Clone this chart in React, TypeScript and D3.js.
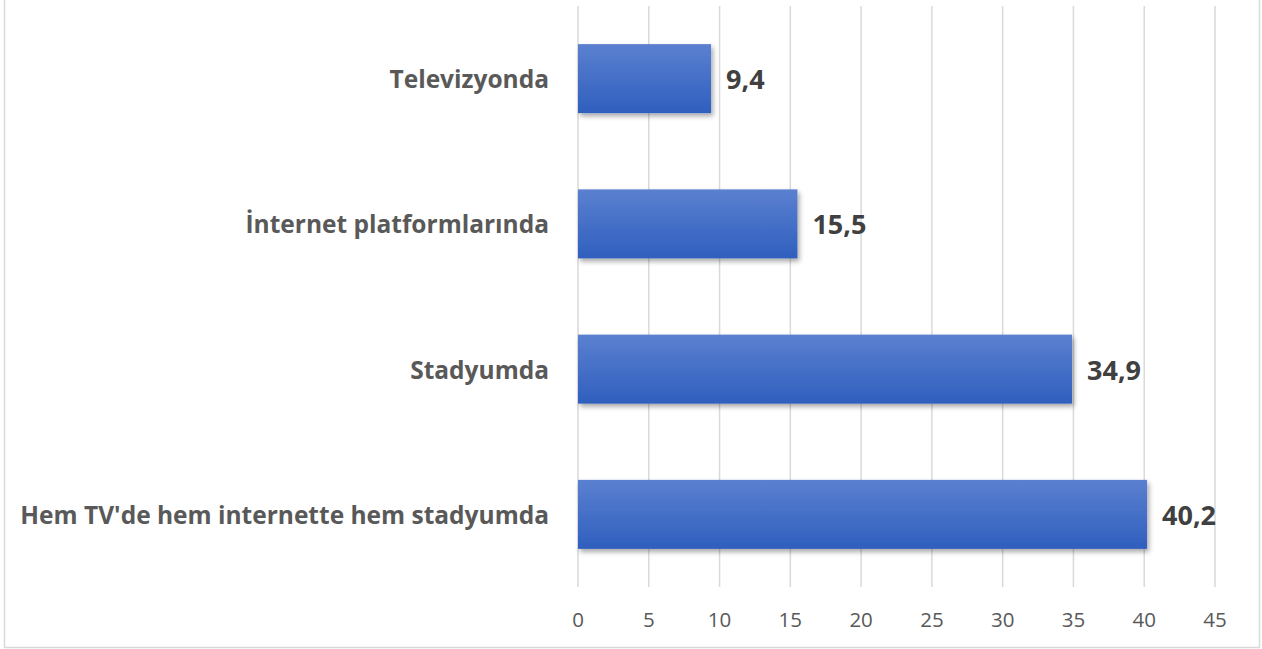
import React from "react";
import * as d3 from "d3";

const categories = [
  "Televizyonda",
  "İnternet platformlarında",
  "Stadyumda",
  "Hem TV'de hem internette hem stadyumda",
];
const values = [9.4, 15.5, 34.9, 40.2];
const valueLabels = ["9,4", "15,5", "34,9", "40,2"];
const ticks = [0, 5, 10, 15, 20, 25, 30, 35, 40, 45];

const W = 1262;
const H = 649;
const M = { left: 578, right: 1215, top: 6, bottom: 587 };

export default function App() {
  const x = d3.scaleLinear().domain([0, 45]).range([M.left, M.right]);
  const y = d3
    .scaleBand<string>()
    .domain(categories)
    .range([M.top, M.bottom])
    .paddingInner(0.525)
    .paddingOuter(0.2625);
  const bw = y.bandwidth();
  return (
    <div style={{ position: "fixed", left: 0, top: 0 }}>
      <svg width={W} height={H} style={{ display: "block", background: "#fff" }}>
        <defs>
          <linearGradient id="barGrad" x1="0" y1="0" x2="0" y2="1">
            <stop offset="0%" stopColor="#5b80d0" />
            <stop offset="100%" stopColor="#2f5fbe" />
          </linearGradient>
          <filter id="shadow" x="-10%" y="-20%" width="130%" height="160%">
            <feDropShadow dx="2" dy="3" stdDeviation="2.5" floodColor="#000" floodOpacity="0.35" />
          </filter>
        </defs>
        <rect x={4.5} y={-5} width={1255} height={652.5} fill="#fff" stroke="#d9d9d9" strokeWidth={1.5} />
        {ticks.map((t) => (
          <line
            key={t}
            x1={x(t)}
            x2={x(t)}
            y1={M.top}
            y2={M.bottom}
            stroke="#d9d9d9"
            strokeWidth={1.5}
          />
        ))}
        {categories.map((c, i) => (
          <rect
            key={c}
            x={x(0)}
            y={y(c)!}
            width={x(values[i]) - x(0)}
            height={bw}
            fill="url(#barGrad)"
            filter="url(#shadow)"
          />
        ))}
        {categories.map((c, i) => (
          <text
            key={c}
            x={549}
            y={y(c)! + bw / 2}
            textAnchor="end"
            dominantBaseline="central"
            fontFamily="Open Sans"
            fontWeight="bold"
            fontSize={24.5}
            fill="#595959"
          >
            {c}
          </text>
        ))}
        {categories.map((c, i) => (
          <text
            key={c}
            x={x(values[i]) + 15}
            y={y(c)! + bw / 2}
            dominantBaseline="central"
            fontFamily="Open Sans"
            fontWeight="bold"
            fontSize={27}
            fill="#404040"
          >
            {valueLabels[i]}
          </text>
        ))}
        {ticks.map((t) => (
          <text
            key={t}
            x={x(t)}
            y={619}
            textAnchor="middle"
            dominantBaseline="central"
            fontFamily="Open Sans"
            fontSize={20.5}
            fill="#595959"
          >
            {t}
          </text>
        ))}
      </svg>
    </div>
  );
}
